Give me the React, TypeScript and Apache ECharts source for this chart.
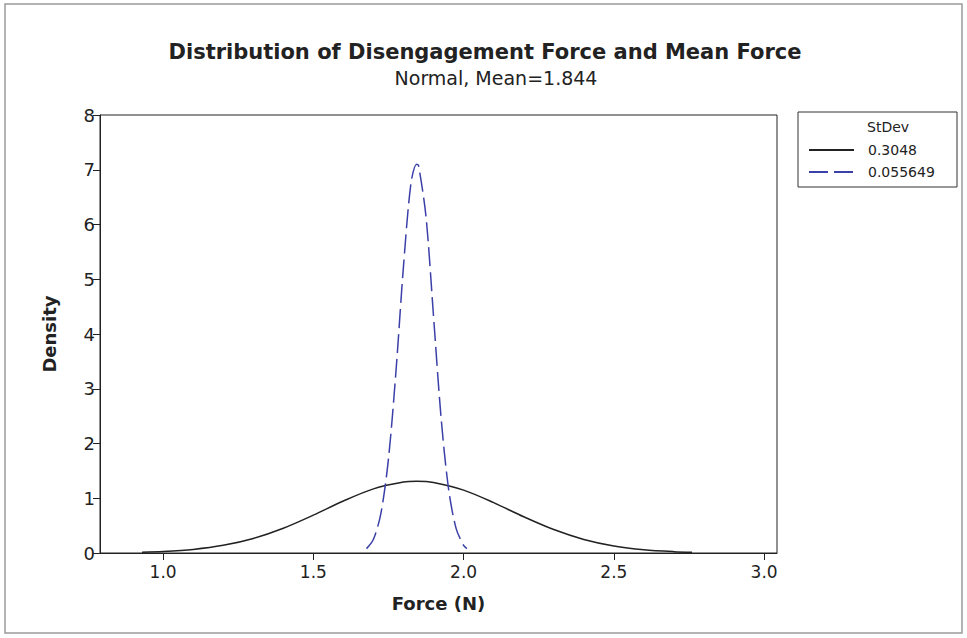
import React, { useEffect, useRef } from "react";
import * as echarts from "echarts";

// Values
const forceSolid = [0.93, 1.0, 1.1, 1.2, 1.3, 1.4, 1.5, 1.6, 1.7, 1.8, 1.844, 1.9, 2.0, 2.1, 2.2, 2.3, 2.4, 2.5, 2.6, 2.7, 2.76];
const densitySolid = [0.015, 0.028, 0.066, 0.14, 0.266, 0.453, 0.692, 0.95, 1.171, 1.295, 1.309, 1.287, 1.148, 0.92, 0.662, 0.428, 0.248, 0.129, 0.06, 0.025, 0.015];

const forceDashed = [1.677, 1.7, 1.725, 1.75, 1.775, 1.8, 1.825, 1.844, 1.85, 1.875, 1.9, 1.925, 1.95, 1.975, 2.0, 2.011];
const densityDashed = [0.08, 0.25, 0.73, 1.72, 3.32, 5.24, 6.76, 7.1, 7.08, 6.14, 4.32, 2.48, 1.17, 0.45, 0.14, 0.08];

const xTicks = [1.0, 1.5, 2.0, 2.5, 3.0];
const stdevNames = ["0.3048", "0.055649"];

const titleText = "Distribution of Disengagement Force and Mean Force";
const subtitleText = "Normal, Mean=1.844";

const FONT = "DejaVu Sans";

export default function App() {
  const ref = useRef<HTMLDivElement>(null);

  useEffect(() => {
    if (!ref.current) return;
    const chart = echarts.init(ref.current, null, { renderer: "svg" });
    const solidData = forceSolid.map((x, i) => [x, densitySolid[i]]);
    const dashedData = forceDashed.map((x, i) => [x, densityDashed[i]]);

    chart.setOption({
      animation: false,
      backgroundColor: "#ffffff",
      textStyle: { fontFamily: FONT },
      title: [
        {
          text: titleText,
          left: 480,
          textAlign: "center",
          top: 36,
          textStyle: { fontFamily: FONT, fontSize: 21, fontWeight: "bold", color: "#222" },
        },
        {
          text: subtitleText,
          left: 491,
          textAlign: "center",
          top: 63,
          textStyle: { fontFamily: FONT, fontSize: 19, fontWeight: "normal", color: "#222" },
        },
      ],
      grid: {
        left: 100,
        right: 190,
        top: 115,
        bottom: 85,
        show: true,
        borderColor: "#222",
        borderWidth: 1,
        backgroundColor: "transparent",
      },
      legend: {
        show: true,
        orient: "vertical",
        left: 808,
        top: 143,
        padding: 0,
        itemWidth: 45,
        itemHeight: 14,
        itemGap: 8,
        data: stdevNames,
        itemStyle: { opacity: 0 },
        textStyle: { fontFamily: FONT, fontSize: 14, color: "#222", padding: [0, 0, 0, 9] },
      },
      xAxis: {
        type: "value",
        min: 0.79,
        max: 3.043,
        name: "Force (N)",
        nameLocation: "middle",
        nameGap: 41,
        nameTextStyle: { fontFamily: FONT, fontSize: 18, fontWeight: "bold", color: "#222" },
        axisLine: { show: true, onZero: false, lineStyle: { color: "#222", width: 1 } },
        axisTick: { show: true, length: 7, customValues: xTicks, lineStyle: { color: "#222" } },
        axisLabel: {
          customValues: xTicks,
          fontFamily: FONT,
          fontSize: 17,
          color: "#222",
          margin: 10,
          formatter: (v: number) => v.toFixed(1),
        },
        splitLine: { show: false },
      },
      yAxis: {
        type: "value",
        min: 0,
        max: 8,
        interval: 1,
        name: "Density",
        nameLocation: "middle",
        nameRotate: 90,
        nameGap: 42,
        nameTextStyle: { fontFamily: FONT, fontSize: 18, fontWeight: "bold", color: "#222" },
        axisLine: { show: true, lineStyle: { color: "#222", width: 1 } },
        axisTick: { show: true, length: 7, lineStyle: { color: "#222" } },
        axisLabel: { fontFamily: FONT, fontSize: 18, color: "#222", margin: 5 },
        splitLine: { show: false },
      },
      series: [
        {
          name: stdevNames[0],
          type: "line",
          data: solidData,
          smooth: 0.3,
          symbol: "none",
          showSymbol: false,
          lineStyle: { color: "#222222", width: 1.5, type: "solid" },
          itemStyle: { color: "#222222" },
          z: 3,
        },
        {
          name: stdevNames[1],
          type: "line",
          data: dashedData,
          smooth: 0.3,
          symbol: "none",
          showSymbol: false,
          lineStyle: { color: "#3b40a8", width: 1.5, type: [19, 6] },
          itemStyle: { color: "#3b40a8" },
          z: 4,
        },
      ],
      graphic: [
        {
          type: "rect",
          shape: { x: 5, y: 4, width: 957, height: 629 },
          style: { fill: "none", stroke: "#9a9a9a", lineWidth: 1.5 },
          silent: true,
        },
        {
          type: "rect",
          shape: { x: 798, y: 112, width: 159, height: 75 },
          style: { fill: "none", stroke: "#333", lineWidth: 1 },
          silent: true,
        },
        {
          type: "text",
          x: 867,
          y: 127,
          style: {
            text: "StDev",
            fontFamily: FONT,
            fontSize: 14,
            fill: "#222",
            verticalAlign: "middle",
          },
          silent: true,
        },
      ],
    });

    return () => chart.dispose();
  }, []);

  return <div ref={ref} style={{ width: 967, height: 638, position: "absolute", left: 0, top: 0 }} />;
}
